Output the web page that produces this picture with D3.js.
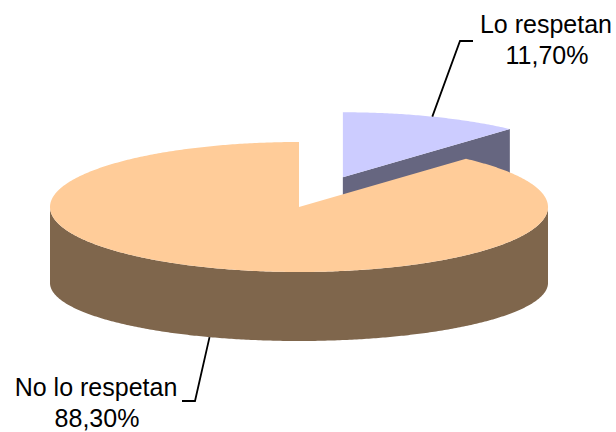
<!DOCTYPE html>
<html><head><meta charset="utf-8">
<script src="https://cdn.jsdelivr.net/npm/d3@7"></script>
<style>html,body{margin:0;padding:0;background:#fff}svg{display:block}</style></head>
<body><svg id="c" width="616" height="432"></svg>
<script>
// ---- data ----
const categories = ["Lo respetan", "No lo respetan"];
const values = [11.7, 88.3];
const valueLabels = ["11,70%", "88,30%"];
const topColors = ["#CCCCFF", "#FFCC99"];
const sideColors = ["#666680", "#7F664C"];
const exploded = [0.49, 0];

// ---- layout ----
const cx = 299, cy = 207, rx = 249, ry = 65, depth = 76, ryB = 58;
const svg = d3.select("#c");
const arcs = d3.pie().sort(null).value(d => d)(values);

function offsetOf(i) {
  const m = (arcs[i].startAngle + arcs[i].endAngle) / 2;
  const e = exploded[i];
  return [e * rx * Math.sin(m), -e * ry * Math.cos(m)];
}
function pt(a, off, bottom) {
  return bottom
    ? [off[0] + cx + rx * Math.sin(a), off[1] + cy + depth - ryB * Math.cos(a)]
    : [off[0] + cx + rx * Math.sin(a), off[1] + cy - ry * Math.cos(a)];
}
function arcPts(a0, a1, off, bottom) {
  const n = Math.max(2, Math.ceil(Math.abs(a1 - a0) / 0.01));
  const s = d3.scaleLinear().domain([0, n]).range([a0, a1]);
  return d3.range(n + 1).map(k => pt(s(k), off, bottom));
}
const line = d3.line();
const poly = p => line(p) + "Z";

const order = d3.range(arcs.length).sort((a, b) => {
  const ya = offsetOf(a)[1], yb = offsetOf(b)[1];
  return ya - yb;
});

order.forEach(i => {
  const d = arcs[i], off = offsetOf(i);
  const a0 = d.startAngle, a1 = d.endAngle;
  const g = svg.append("g");
  const ctrT = [cx + off[0], cy + off[1]];
  const ctrB = [cx + off[0], cy + off[1] + depth];
  // cut face at end angle
  const nEnd = a1 + Math.PI / 2;
  if (Math.cos(nEnd) < -1e-6) {
    g.append("path").attr("d", poly([ctrT, pt(a1, off, false), pt(a1, off, true), ctrB]))
      .attr("fill", sideColors[i]);
  }
  const nStart = a0 - Math.PI / 2;
  if (Math.cos(nStart) < -1e-6) {
    g.append("path").attr("d", poly([ctrT, pt(a0, off, false), pt(a0, off, true), ctrB]))
      .attr("fill", sideColors[i]);
  }
  // outer rim, front half
  const lo = Math.max(a0, Math.PI / 2), hi = Math.min(a1, 3 * Math.PI / 2);
  if (hi > lo) {
    const p = arcPts(lo, hi, off, false).concat(arcPts(hi, lo, off, true));
    g.append("path").attr("d", poly(p)).attr("fill", sideColors[i]);
  }
  // top face
  g.append("path").attr("d", poly([ctrT].concat(arcPts(a0, a1, off, false))))
    .attr("fill", topColors[i]);
});

// ---- labels ----
const labelPos = [
  { x: 546, y: 33, elbowDx: -86, elbowDy: 8, side: "top" },
  { x: 96, y: 396, elbowDx: 99, elbowDy: 5, side: "bottom" }
];
arcs.forEach((d, i) => {
  const m = (d.startAngle + d.endAngle) / 2;
  const off = offsetOf(i);
  const lp = labelPos[i];
  const anchor = lp.side === "top" ? pt(m, off, false) : pt(m, off, true);
  const endX = lp.side === "top" ? lp.x - 73 : lp.x + 86;
  const elbow = [lp.x + lp.elbowDx, lp.y + lp.elbowDy];
  svg.append("path")
    .attr("d", line([anchor, elbow, [endX, elbow[1]]]))
    .attr("fill", "none").attr("stroke", "#000").attr("stroke-width", 1.8);
  const t = svg.append("text").attr("text-anchor", "middle")
    .attr("font-family", "'Liberation Sans', Arial, sans-serif")
    .attr("font-size", 25).attr("fill", "#000");
  t.append("tspan").attr("x", lp.x).attr("y", lp.y).text(categories[i]);
  t.append("tspan").attr("x", lp.x + 1).attr("y", lp.y + 31).text(valueLabels[i]);
});
</script>
</body></html>
